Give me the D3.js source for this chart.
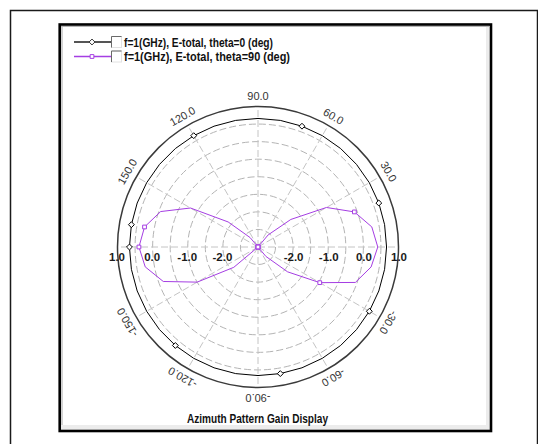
<!DOCTYPE html>
<html>
<head>
<meta charset="utf-8">
<script src="https://cdn.jsdelivr.net/npm/d3@7"></script>
<style>
  html, body { margin: 0; padding: 0; background: #fff; }
  svg { display: block; font-family: "Liberation Sans", Arial, sans-serif; }
</style>
</head>
<body>
<svg id="chart" width="538" height="444"></svg>
<script>
// Azimuth angle (deg) of each sample
const phiDeg = [-180, -170, -160, -150, -140, -130, -120, -110, -100, -90,
  -80, -70, -60, -50, -40, -30, -20, -10, 0, 10, 20, 30, 40, 50, 60, 70,
  80, 90, 100, 110, 120, 130, 140, 150, 160, 170, 180];

// E-total gain, theta = 0 deg
const gainTheta0 = [0.66, 0.66, 0.66, 0.66, 0.66, 0.66, 0.66, 0.66, 0.66, 0.66,
  0.66, 0.66, 0.66, 0.66, 0.66, 0.66, 0.66, 0.66, 0.66, 0.66, 0.66, 0.66,
  0.66, 0.66, 0.66, 0.66, 0.66, 0.66, 0.66, 0.66, 0.66, 0.66, 0.66, 0.66,
  0.66, 0.66, 0.66];

// E-total gain, theta = 90 deg
const gainTheta90 = [0.39, 0.26, -0.13, -1.00, -2.10, -3.0, -3.0, -3.0, -3.0, -3.0,
  -3.0, -3.0, -3.0, -2.65, -1.90, -0.97, -0.05, 0.27, 0.41, 0.29, -0.08, -0.75,
  -1.78, -2.55, -3.0, -3.0, -3.0, -3.0, -3.0, -3.0, -3.0, -2.65, -1.89, -0.78,
  -0.05, 0.28, 0.39];

const seriesNames = ["f=1(GHz), E-total, theta=0 (deg)", "f=1(GHz), E-total, theta=90 (deg)"];
const radialTicks = [1.0, 0.0, -1.0, -2.0];
const ringValues = [-2.5, -2.0, -1.5, -1.0, -0.5, 0.0, 0.5];
const spokeAngles = [0, 30, 60, 90, 120, 150, 180, 210, 240, 270, 300, 330];
const angleTicks = [30, 60, 90, 120, 150, -30, -60, -90, -120, -150];
const chartTitle = "Azimuth Pattern Gain Display";

const svg = d3.select("#chart");
const cx = 258, cy = 247;
const R = 140.5;
const purple = "#a53ee3";
const rad = d => d * Math.PI / 180;

const r = d3.scaleLinear().domain([-3, 1]).range([0, R]).clamp(true);

// Frames
svg.append("rect").attr("x", 10.5).attr("y", 10.5).attr("width", 527).attr("height", 460)
  .attr("fill", "#fff").attr("stroke", "#1a1a1a").attr("stroke-width", 1.5);
svg.append("rect").attr("x", 61).attr("y", 26).attr("width", 428.5).attr("height", 404)
  .attr("fill", "#fff");
// soft inner edges of the plot panel
svg.append("rect").attr("x", 61).attr("y", 425).attr("width", 428).attr("height", 5).attr("fill", "#ececec");
svg.append("rect").attr("x", 486).attr("y", 26).attr("width", 3.5).attr("height", 404).attr("fill", "#ececec");
svg.append("line").attr("x1", 62).attr("x2", 62).attr("y1", 27).attr("y2", 425)
  .attr("stroke", "#b5b5b5").attr("stroke-width", 1.2);
svg.append("line").attr("x1", 61).attr("x2", 489).attr("y1", 26.5).attr("y2", 26.5)
  .attr("stroke", "#b5b5b5").attr("stroke-width", 1);
svg.append("rect").attr("x", 59.7).attr("y", 24.5).attr("width", 431.3).attr("height", 406.5)
  .attr("fill", "none").attr("stroke", "#000").attr("stroke-width", 2.6);

const g = svg.append("g").attr("transform", `translate(${cx},${cy})`);

// Dashed rings
g.selectAll("circle.ring").data(ringValues).join("circle")
  .attr("class", "ring").attr("r", d => r(d))
  .attr("fill", "none").attr("stroke", "#b4b4b4").attr("stroke-width", 1)
  .attr("stroke-dasharray", "7,3");

// Dashed spokes
g.selectAll("line.spoke").data(spokeAngles).join("line")
  .attr("class", "spoke")
  .attr("x1", 0).attr("y1", 0)
  .attr("x2", d => R * Math.cos(rad(d)))
  .attr("y2", d => -R * Math.sin(rad(d)))
  .attr("stroke", "#c4c4c4").attr("stroke-width", 1)
  .attr("stroke-dasharray", "7,3");

// Outer boundary
g.append("circle").attr("r", r(1)).attr("fill", "none")
  .attr("stroke", "#3a3a3a").attr("stroke-width", 1.5);

// Angle labels
g.selectAll("text.ang").data(angleTicks).join("text")
  .attr("class", "ang")
  .attr("transform", d => {
    const x = 151 * Math.cos(rad(d)), y = -151 * Math.sin(rad(d));
    return `translate(${x},${y}) rotate(${90 - d})`;
  })
  .attr("text-anchor", "middle").attr("dominant-baseline", "central")
  .attr("font-size", 11).attr("fill", "#333")
  .text(d => d.toFixed(1));

// Radial labels on both sides of the horizontal axis
const radialLabels = radialTicks.flatMap(v => [{ v, s: 1 }, { v, s: -1 }]);
g.selectAll("text.rad").data(radialLabels).join("text")
  .attr("class", "rad")
  .attr("x", d => d.s * (r(d.v) + 0.5))
  .attr("y", 13.5)
  .attr("text-anchor", "middle")
  .attr("font-size", 11.5).attr("font-weight", "bold").attr("fill", "#1a1a1a")
  .text(d => d.v.toFixed(1));

// Series
const series = [
  { name: seriesNames[0], values: gainTheta0, color: "#000", marker: "diamond" },
  { name: seriesNames[1], values: gainTheta90, color: purple, marker: "square" }
];

const line = d3.lineRadial()
  .angle(d => rad(90 - d.phi))
  .radius(d => r(d.g));

const markerPath = (type, size) => d3.symbol()
  .type(type === "diamond" ? d3.symbolDiamond2 : d3.symbolSquare2).size(size)();

series.forEach(s => {
  const pts = phiDeg.map((phi, i) => ({ phi, g: s.values[i], i }));
  g.append("path").datum(pts)
    .attr("d", line)
    .attr("fill", "none").attr("stroke", s.color).attr("stroke-width", 1);
  g.selectAll(null).data(pts.filter(p => p.i % 5 === 0)).join("path")
    .attr("transform", p => `translate(${r(p.g) * Math.cos(rad(p.phi))},${-r(p.g) * Math.sin(rad(p.phi))})`)
    .attr("d", markerPath(s.marker, s.marker === "diamond" ? 22 : 18))
    .attr("fill", "#fff").attr("stroke", s.color).attr("stroke-width", 1);
});

// Legend
const legendY = [42, 56.5];
const legendWidths = [149, 166];
series.forEach((s, i) => {
  const y = legendY[i];
  const lg = svg.append("g");
  lg.append("line").attr("x1", 74).attr("x2", 111).attr("y1", y).attr("y2", y)
    .attr("stroke", i === 0 ? "#555" : purple).attr("stroke-width", i === 0 ? 2 : 1.5);
  lg.append("path").attr("transform", `translate(92,${y})`)
    .attr("d", markerPath(s.marker, s.marker === "diamond" ? 22 : 18))
    .attr("fill", "#fff").attr("stroke", i === 0 ? "#333" : purple).attr("stroke-width", 1);
  // checkbox
  lg.append("rect").attr("x", 111.5).attr("y", y - 5.5).attr("width", 10).attr("height", 11)
    .attr("fill", "#fff").attr("stroke", "#e2e2e2").attr("stroke-width", 1);
  lg.append("path").attr("d", `M111.5,${y + 5.5}V${y - 5.5}H121.5`)
    .attr("fill", "none").attr("stroke", "#6a6a6a").attr("stroke-width", 1);
  lg.append("text").attr("x", 124).attr("y", y + 4.5)
    .attr("font-size", 12.5).attr("font-weight", "bold").attr("fill", "#111")
    .attr("textLength", legendWidths[i]).attr("lengthAdjust", "spacingAndGlyphs")
    .text(s.name);
});

// Title
svg.append("text").attr("x", 257.5).attr("y", 422.5)
  .attr("text-anchor", "middle")
  .attr("font-size", 12.5).attr("font-weight", "bold").attr("fill", "#111")
  .attr("textLength", 141).attr("lengthAdjust", "spacingAndGlyphs")
  .text(chartTitle);
</script>
</body>
</html>
